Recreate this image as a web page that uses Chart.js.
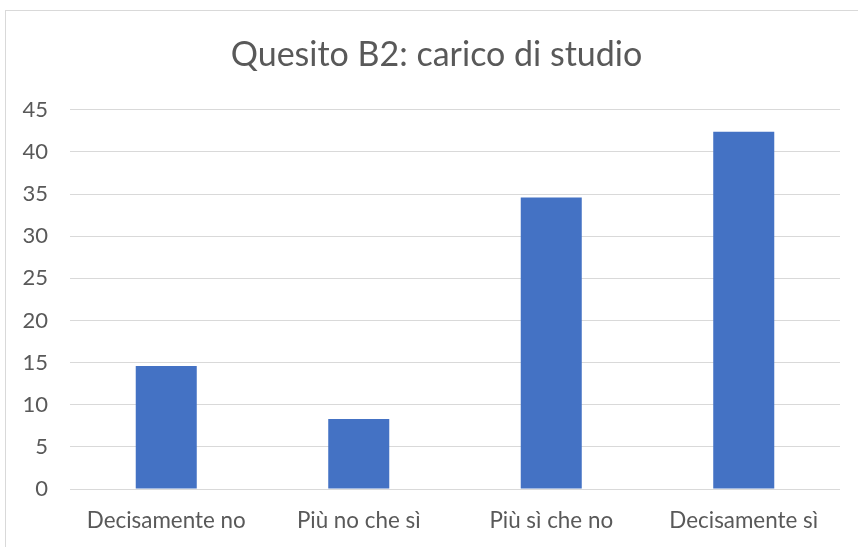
<!DOCTYPE html>
<html>
<head>
<meta charset="utf-8">
<script src="https://cdn.jsdelivr.net/npm/chart.js@4"></script>
<style>
  html, body { margin: 0; padding: 0; background: #fff; overflow: hidden; }
  #wrap { position: relative; width: 858px; height: 547px; overflow: hidden; }
  #frame { position: absolute; left: 5px; top: 10px; width: 900px; height: 600px;
           border-left: 1px solid #d9d9d9; border-top: 1px solid #d9d9d9; }
  canvas { position: absolute; left: 0; top: 0; }
</style>
</head>
<body>
<div id="wrap">
  <div id="frame"></div>
  <!-- canvas wider than the frame so the title centre matches the original -->
  <canvas id="chart" width="873" height="547"></canvas>
</div>
<script>
const categories = ['Decisamente no', 'Più no che sì', 'Più sì che no', 'Decisamente sì'];
const values = [14.6, 8.3, 34.6, 42.4];
const chartTitle = 'Quesito B2: carico di studio';

const ctx = document.getElementById('chart').getContext('2d');
const chart = new Chart(ctx, {
    type: 'bar',
    data: {
        labels: categories,
        datasets: [{
            data: values,
            backgroundColor: '#4472C4',
            categoryPercentage: 1,
            barPercentage: 0.317,
        }]
    },
    options: {
        responsive: false,
        animation: false,
        layout: { padding: 0 },
        plugins: {
            legend: { display: false },
            tooltip: { enabled: false },
            title: {
                display: true,
                text: chartTitle,
                color: '#595959',
                font: { family: 'Lato', size: 34, weight: 'normal' },
                padding: { top: 35, bottom: 34 },
            },
        },
        scales: {
            x: {
                afterFit: (scale) => { scale.height = 58; },
                grid: { display: false, drawTicks: false },
                border: { display: false },
                ticks: {
                    color: '#595959',
                    font: { family: 'Lato', size: 22.4 },
                    padding: 18,
                    maxRotation: 0,
                },
            },
            y: {
                min: 0,
                max: 45,
                afterFit: (scale) => { scale.width = 70; },
                grid: { color: '#d9d9d9', lineWidth: 1, drawTicks: false },
                border: { display: false },
                ticks: {
                    stepSize: 5,
                    color: '#595959',
                    font: { family: 'Lato', size: 22 },
                    padding: 22,
                },
            },
            // empty right-hand spacer
            yRight: {
                type: 'linear',
                position: 'right',
                afterFit: (scale) => { scale.width = 33; },
                grid: { display: false, drawTicks: false },
                border: { display: false },
                ticks: { display: false },
            },
        },
    },
});
</script>
</body>
</html>
